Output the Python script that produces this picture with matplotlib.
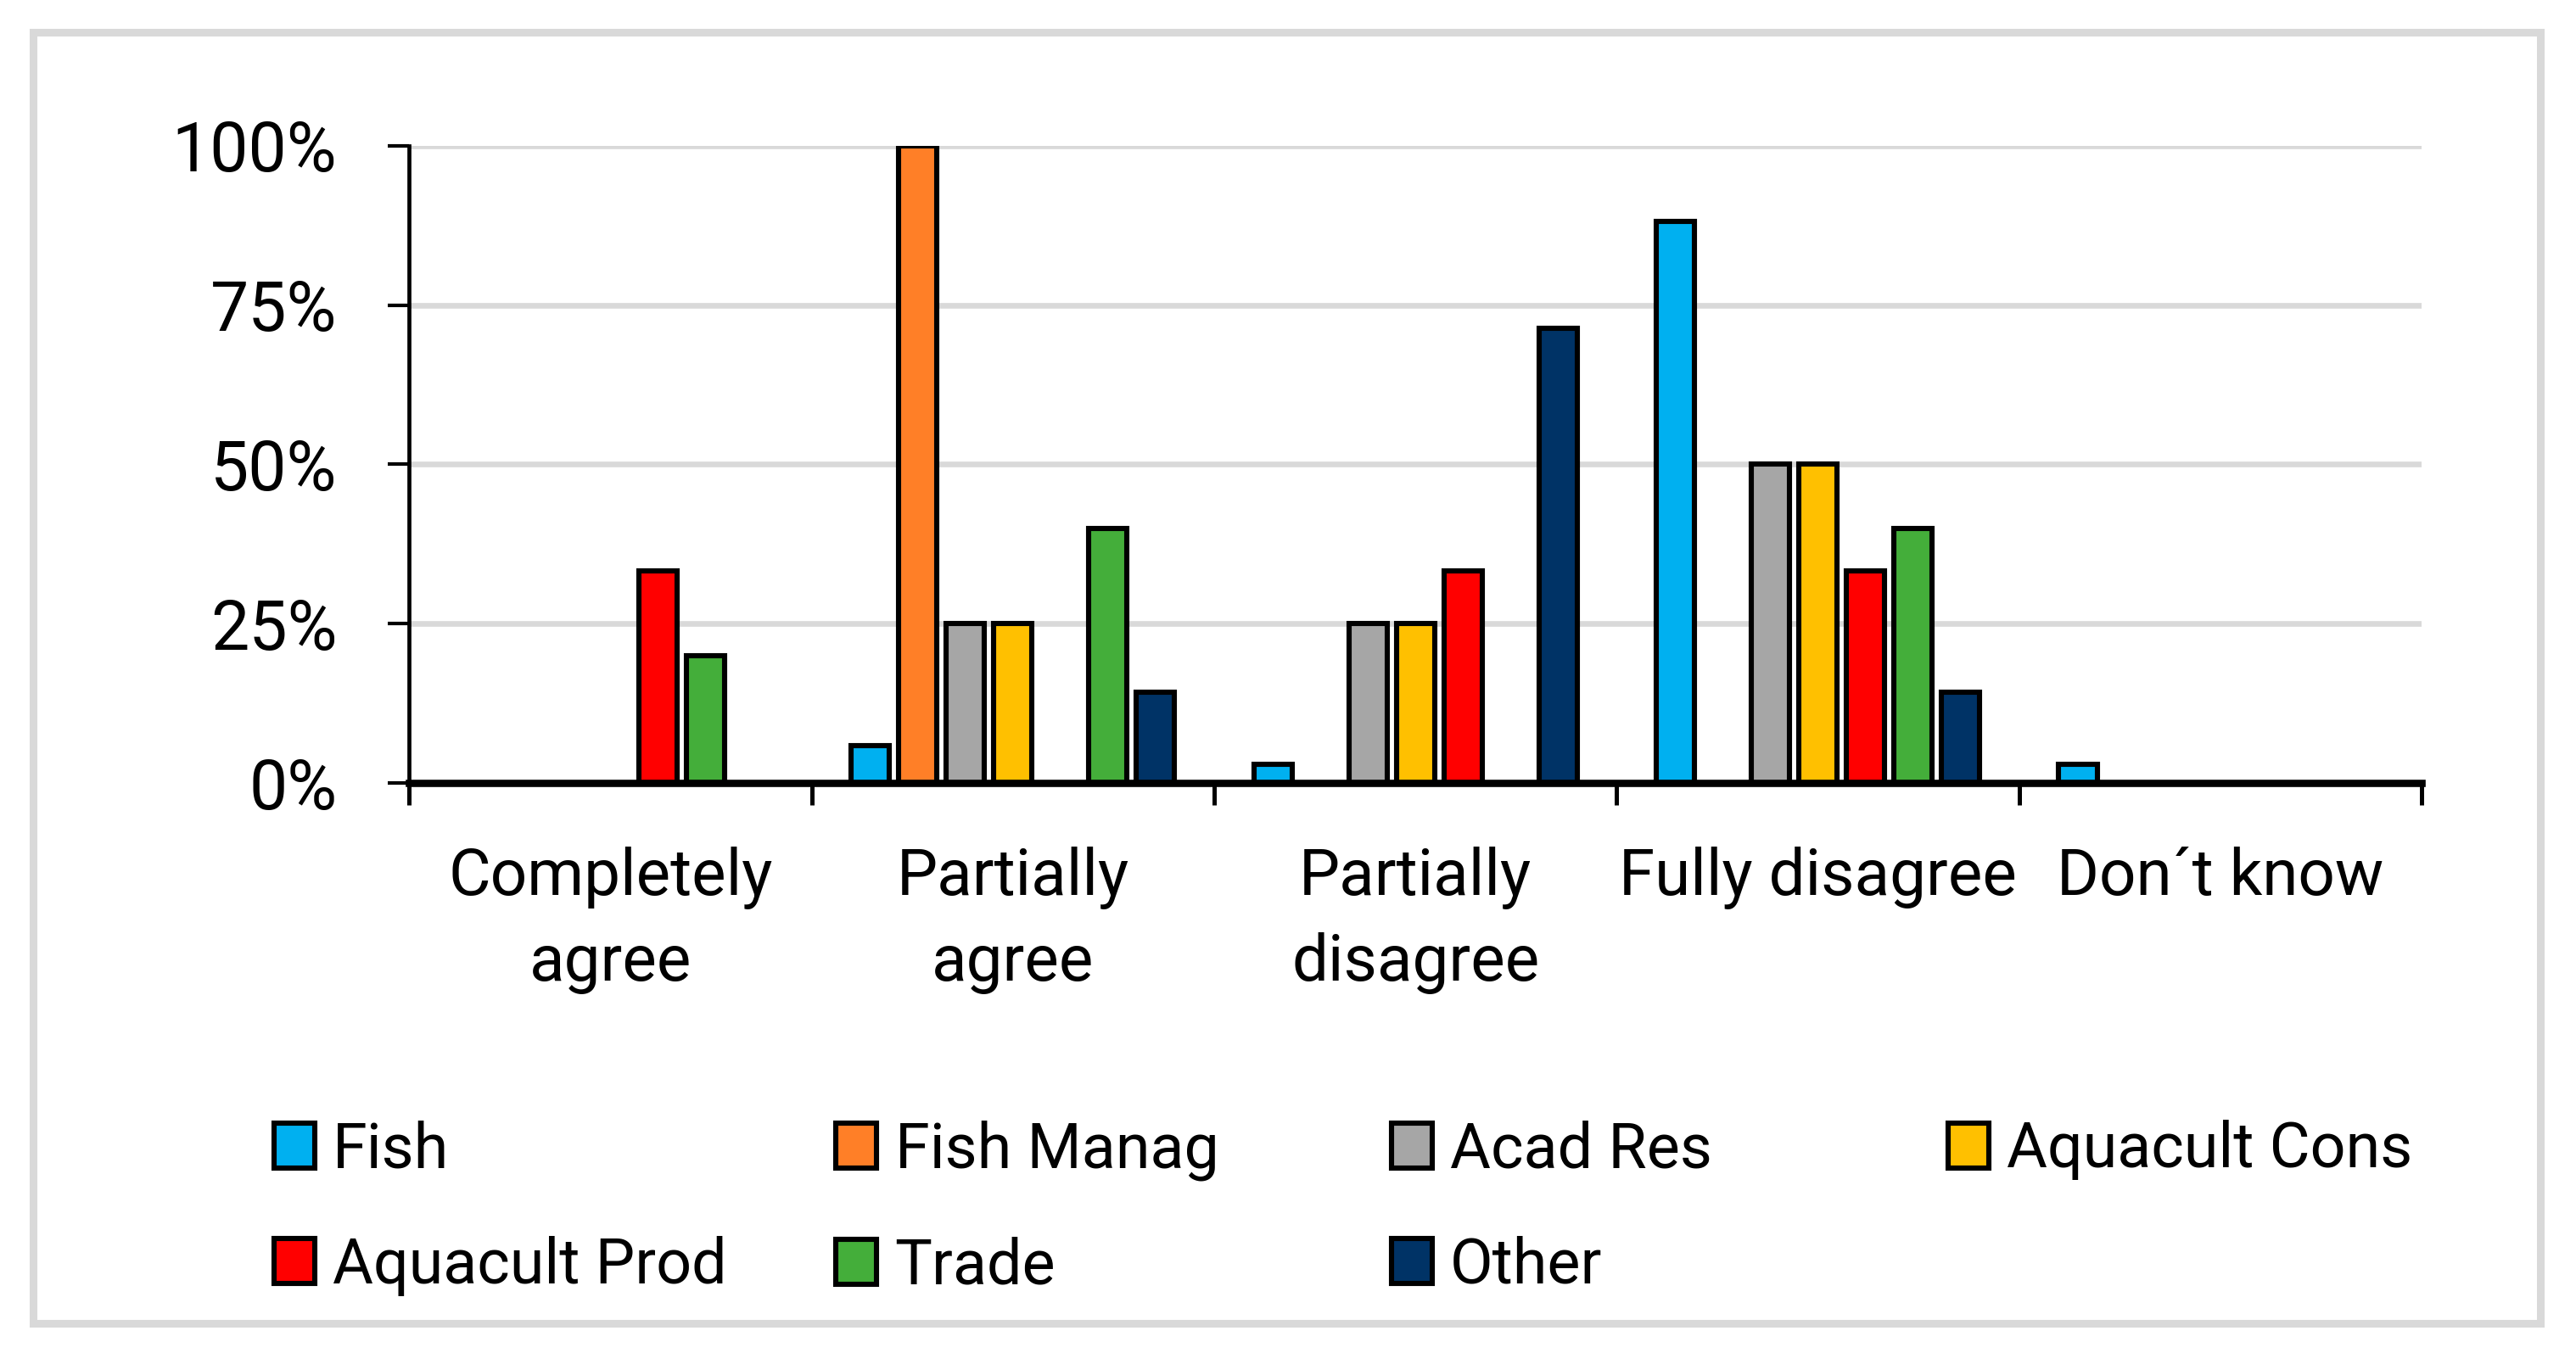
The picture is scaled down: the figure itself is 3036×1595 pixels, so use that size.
import numpy as np
import matplotlib
matplotlib.use("Agg")
import matplotlib.pyplot as plt
from matplotlib.patches import Rectangle
import matplotlib.patheffects as pe

plt.rcParams['font.family'] = ['Roboto', 'DejaVu Sans']

categories = ["Completely\nagree", "Partially\nagree", "Partially\ndisagree",
              "Fully disagree", "Don\u00b4t know"]
series_names = ["Fish", "Fish Manag", "Acad Res", "Aquacult Cons",
                "Aquacult Prod", "Trade", "Other"]
fish          = [0, 5.9, 2.9, 88.2, 2.9]
fish_manag    = [0, 100, 0, 0, 0]
acad_res      = [0, 25, 25, 50, 0]
aquacult_cons = [0, 25, 25, 50, 0]
aquacult_prod = [33.3, 0, 33.3, 33.3, 0]
trade         = [20, 40, 0, 40, 0]
other         = [0, 14.3, 71.4, 14.3, 0]
series_values = [fish, fish_manag, acad_res, aquacult_cons, aquacult_prod, trade, other]
colors = ["#00B0F0", "#FF7F27", "#A6A6A6", "#FFC000", "#FF0000", "#44AE3A", "#003366"]
yticks = [0, 25, 50, 75, 100]
ytick_labels = ["0%", "25%", "50%", "75%", "100%"]

W, H = 3036, 1595
fig = plt.figure(figsize=(W / 100, H / 100), dpi=100)
ax = fig.add_axes([0.1588, 0.4213, 0.7813, 0.4709])

x = np.arange(len(categories))
step = 0.118
width = 0.095
shadow = [pe.SimplePatchShadow(offset=(1.2, 1.8), shadow_rgbFace="#d0d0d0", alpha=1.0), pe.Normal()]
handles = []
for i, (name, vals, c) in enumerate(zip(series_names, series_values, colors)):
    v = np.array(vals, dtype=float)
    v = np.where(v > 0, v, np.nan)
    bars = ax.bar(x + (i - 3) * step, v, width=width, color=c, edgecolor="black",
                  linewidth=4.4, label=name, zorder=2)
    for b in bars:
        b.set_path_effects(shadow)
    handles.append(Rectangle((0, 0), 1, 1, facecolor=c, edgecolor="black", linewidth=4.4, label=name))

ax.set_xlim(-0.5, len(categories) - 0.5)
ax.set_ylim(0, 100)
ax.set_yticks(yticks)
ax.set_yticklabels(ytick_labels, fontsize=58)
ax.set_xticks(np.arange(len(categories) + 1) - 0.5)
ax.set_xticklabels([])
ax.set_xticks(x, minor=True)
ax.set_xticklabels(categories, minor=True, fontsize=55, linespacing=1.47)
ax.tick_params(axis='x', which='minor', length=0, pad=54)
ax.tick_params(axis='x', which='major', length=19, width=3.6, direction='out', color='black')
ax.tick_params(axis='y', length=18, width=3.0, direction='out', pad=43, color='black')

for s in ['top', 'right']:
    ax.spines[s].set_visible(False)
ax.spines['bottom'].set_linewidth(6.2)
ax.spines['left'].set_linewidth(3.4)
ax.spines['bottom'].set_zorder(5)
ax.yaxis.grid(True, color="#d9d9d9", linewidth=4.8)
ax.set_axisbelow(True)

# legends (columns)
col_x = [0.1064, 0.3246, 0.5401, 0.7563]
cols = [[0, 4], [1, 5], [2, 6], [3]]
for cx, idxs in zip(col_x, cols):
    leg = fig.legend(handles=[handles[j] for j in idxs], loc='upper left',
                     bbox_to_anchor=(cx, 0.1724), frameon=False, borderpad=0,
                     borderaxespad=0, handlelength=0.65, handleheight=0.73,
                     handletextpad=0.29, labelspacing=0.89, fontsize=53)

# outer border
fig.add_artist(Rectangle((0.01285, 0.0219), 0.9863 - 0.01285, 0.9762 - 0.0219,
                         transform=fig.transFigure, fill=False,
                         edgecolor="#d9d9d9", linewidth=6.5))

fig.savefig("out.png", dpi=100)
